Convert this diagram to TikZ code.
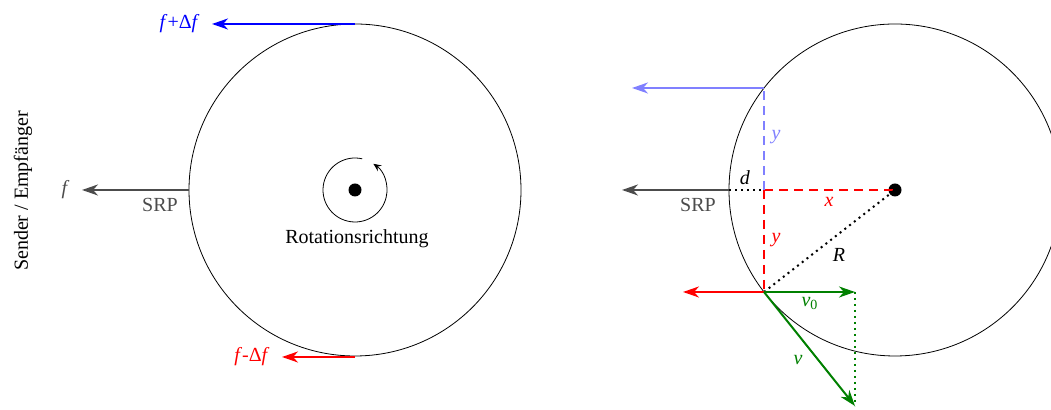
\documentclass[tikz,border=0pt]{standalone}
\usepackage{fontspec}
\setmainfont{Liberation Serif}
\usetikzlibrary{arrows.meta,calc}

\tikzset{
    vec/.style={line width=1pt, -{Stealth[length=8pt,width=5.5pt,inset=2.5pt]}},
    guide/.style={line width=1pt, dashed, dash pattern=on 4.5pt off 3pt},
    dotline/.style={line width=1pt, dotted},
    srpcol/.style={black!70},
    vcol/.style={green!50!black}
}

\begin{document}
\begin{tikzpicture}[x=0.5pt,y=0.5pt]
\useasboundingbox (0,0) rectangle (1051,410);

% Left disc
\coordinate (c1) at (355,220);
\draw (c1) circle[radius=166];
\fill (c1) circle[radius=6.5];

% Rotation sense
\draw[-{Stealth[length=4pt,width=3.5pt,inset=1.5pt]}] ($(c1)+(77:32)$) arc[start angle=77, end angle=415, radius=32];
\node (rot) at (357,171) {Rotationsrichtung};

% Points on the left disc
\coordinate (top1) at (355,386);
\coordinate (left1) at (189,220);
\coordinate (bot1) at (355,53);
\coordinate (ftop) at (212,386);
\coordinate (fmid) at (82,220);
\coordinate (fbot) at (282,53);

% Reflected frequencies
\draw[vec, blue] (top1) -- (ftop);
\node[blue, left, inner sep=6pt] (lftop) at (ftop) {\textit{f}+Δ\textit{f}};
\draw[vec, srpcol] (left1) -- (fmid);
\node[srpcol, left, inner sep=6pt] (lfmid) at (fmid) {\textit{f}};
\node[srpcol] (srp1) at (160,205) {SRP};
\draw[vec, red] (bot1) -- (fbot);
\node[red, left, inner sep=6pt] (lfbot) at (fbot) {\textit{f}-Δ\textit{f}};

% Radar
\node[rotate=90] (radar) at (23,219) {Sender / Empfänger};

% Right disc
\coordinate (c2) at (895,220);
\draw (c2) circle[radius=166];
\fill (c2) circle[radius=6.5];

\coordinate (q) at (729,220);
\coordinate (m) at (764,220);
\coordinate (t) at (764,322);
\coordinate (p) at (764,118);
\coordinate (gmid) at (622,220);
\coordinate (gtop) at (632,322);
\coordinate (gbot) at (683,118);
\coordinate (v0) at (855,118);
\coordinate (v) at (855,4);

% SRP and geometry
\draw[vec, srpcol] (q) -- (gmid);
\node[srpcol] (srp2) at (698,205) {SRP};
\draw[dotline] (q) -- (m);
\node (d) at (745,232) {\textit{d}};
\draw[guide, red] (m) -- (c2);
\node[red] (x) at (829,208) {\textit{x}};
\draw[guide, blue!50] (m) -- (t);
\node[blue!50] (ytop) at (776,273) {\textit{y}};
\draw[guide, red] (m) -- (p);
\node[red] (ybot) at (776,170) {\textit{y}};
\draw[dotline] (p) -- (c2);
\node (r) at (839,155) {\textit{R}};

% Velocities
\draw[vec, blue!50] (t) -- (gtop);
\draw[vec, red] (p) -- (gbot);
\draw[dotline, vcol] (v0) -- (v);
\draw[vec, vcol] (p) -- (v0);
\node[vcol] (lv0) at (810,107) {\textit{v}\textsubscript{\scriptsize 0}};
\draw[vec, vcol] (p) -- (v);
\node[vcol] (lv) at (798,50) {\textit{v}};

\end{tikzpicture}
\end{document}
